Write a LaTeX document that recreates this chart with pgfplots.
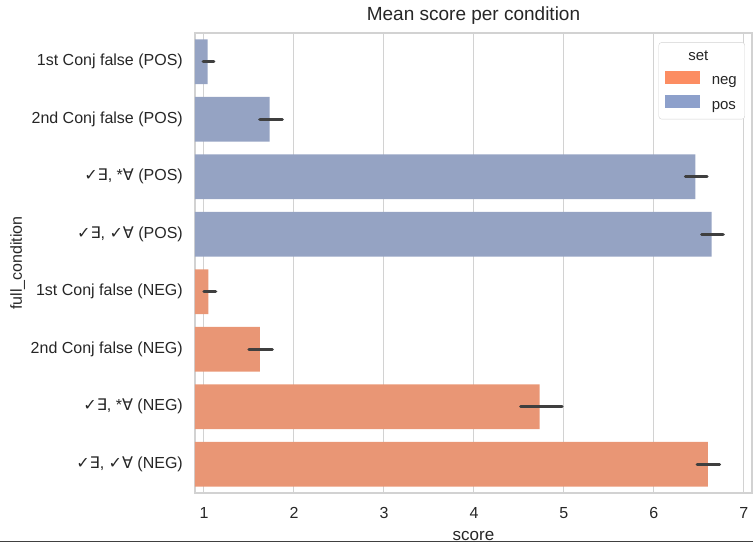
\documentclass[border=0pt]{standalone}
\usepackage{pgfplots}
\pgfplotsset{compat=1.18}
\usepackage{fontspec}
\setmainfont{Liberation Sans}
\newfontfamily\sym{DejaVu Sans}
\definecolor{posbar}{RGB}{149,163,195}
\definecolor{negbar}{RGB}{233,150,117}
\definecolor{poslg}{RGB}{141,160,203}
\definecolor{neglg}{RGB}{252,141,98}
\definecolor{errc}{RGB}{63,63,63}
\definecolor{txt}{RGB}{38,38,38}
\definecolor{gridc}{RGB}{210,210,210}
\begin{document}
\begin{tikzpicture}[x=1pt,y=1pt]
\useasboundingbox (0,0) rectangle (753,542);
\begin{axis}[
  at={(195pt,49pt)}, anchor=south west,
  scale only axis, width=557pt, height=460pt,
  xmin=0.9, xmax=7.09, ymin=-0.5, ymax=7.5, y dir=reverse,
  xtick={1,2,3,4,5,6,7}, ytick={0,1,2,3,4,5,6,7},
  /pgf/number format/assume math mode=true,
  yticklabels={
    {1st Conj false (POS)},
    {2nd Conj false (POS)},
    {{\sym ✓∃}, *{\sym ∀} (POS)},
    {{\sym ✓∃}, {\sym ✓∀} (POS)},
    {1st Conj false (NEG)},
    {2nd Conj false (NEG)},
    {{\sym ✓∃}, *{\sym ∀} (NEG)},
    {{\sym ✓∃}, {\sym ✓∀} (NEG)}},
  tick style={draw=none},
  xmajorgrids, ymajorgrids=false,
  major grid style={gridc, line width=1pt},
  axis line style={gridc, line width=1.2pt},
  tick label style={font=\fontsize{16}{19}\selectfont, text=txt},
  xticklabel style={anchor=base, yshift=-25pt},
  yticklabel style={anchor=east, inner sep=0pt, xshift=-12pt},
  title={Mean score per condition},
  title style={font=\fontsize{19}{22}\selectfont, text=txt, at={(axis description cs:0.5,1)}, anchor=base, yshift=7pt},
  xlabel={score},
  xlabel style={font=\fontsize{17}{20}\selectfont, text=txt, at={(axis description cs:0.5,0)}, anchor=base, yshift=-47pt},
  ylabel={full\_condition},
  ylabel style={font=\fontsize{16}{19}\selectfont, text=txt, at={(axis description cs:-0.3106,0.5)}, anchor=base},
  legend style={at={(axis description cs:0.9874,0.980)}, anchor=north east,
    draw=gridc, rounded corners=3pt, fill=white, font=\fontsize{15}{18}\selectfont, text=txt,
    row sep=7pt, inner xsep=6pt, inner ysep=6pt,
    /tikz/every odd column/.append style={column sep=10pt}},
  legend cell align=left,
  legend image code/.code={\fill[#1, draw=none, sharp corners] (0pt,-2pt) rectangle (35pt,11pt);},
]
\addplot[xbar, bar width=0.78, bar shift=0pt, fill=posbar, draw=none, forget plot,
  error bars/.cd, x dir=both, x explicit, error mark=none,
  error bar style={line width=3.2pt, line cap=round, color=errc}]
coordinates {
  (1.04,0) += (0.07,0) -= (0.05,0)
  (1.73,1) += (0.14,0) -= (0.11,0)
  (6.46,2) += (0.13,0) -= (0.11,0)
  (6.64,3) += (0.13,0) -= (0.11,0)
};
\addplot[xbar, bar width=0.78, bar shift=0pt, fill=negbar, draw=none, forget plot,
  error bars/.cd, x dir=both, x explicit, error mark=none,
  error bar style={line width=3.2pt, line cap=round, color=errc}]
coordinates {
  (1.05,4) += (0.08,0) -= (0.05,0)
  (1.62,5) += (0.14,0) -= (0.12,0)
  (4.73,6) += (0.25,0) -= (0.21,0)
  (6.60,7) += (0.13,0) -= (0.12,0)
};
\addlegendimage{empty legend}
\addlegendentry{\hspace*{-24pt}set}
\addlegendimage{fill=neglg, draw=none}
\addlegendentry{neg}
\addlegendimage{fill=poslg, draw=none}
\addlegendentry{pos}
\end{axis}
\draw[black!75, line width=1pt] (0,0.5) -- (753,0.5);
\end{tikzpicture}
\end{document}
